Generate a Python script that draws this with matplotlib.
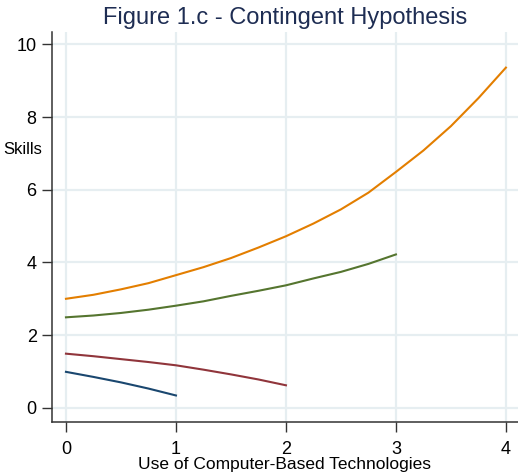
import matplotlib
matplotlib.use("Agg")
import matplotlib.pyplot as plt

# values at quarter-unit steps
x_blue = [0, 0.25, 0.5, 0.75, 1]
y_blue = [0.99, 0.85, 0.70, 0.53, 0.34]

x_red = [0, 0.25, 0.5, 0.75, 1, 1.25, 1.5, 1.75, 2]
y_red = [1.49, 1.42, 1.34, 1.26, 1.17, 1.05, 0.92, 0.78, 0.62]

x_green = [0, 0.25, 0.5, 0.75, 1, 1.25, 1.5, 1.75, 2, 2.25, 2.5, 2.75, 3]
y_green = [2.49, 2.54, 2.61, 2.70, 2.81, 2.93, 3.08, 3.22, 3.37, 3.56, 3.74, 3.96, 4.22]

x_orange = [0, 0.25, 0.5, 0.75, 1, 1.25, 1.5, 1.75, 2, 2.25, 2.5, 2.75, 3,
            3.25, 3.5, 3.75, 4]
y_orange = [3.0, 3.11, 3.26, 3.43, 3.65, 3.87, 4.12, 4.41, 4.72, 5.07, 5.46, 5.92, 6.49,
            7.08, 7.75, 8.52, 9.36]

xticks = [0, 1, 2, 3, 4]
yticks = [0, 2, 4, 6, 8, 10]

plt.rcParams['font.family'] = ['Liberation Sans', 'DejaVu Sans']

fig = plt.figure(figsize=(5.18, 4.74), dpi=100)
ax = fig.add_axes([52/518, 1-422/474, 466/518, 390/474])

grid_col = '#e6eef1'
for v in xticks:
    ax.axvline(v, color=grid_col, lw=1.6, zorder=0)
for v in yticks:
    ax.axhline(v, color=grid_col, lw=1.6, zorder=0)

ax.plot(x_blue, y_blue, color='#1a476f', lw=1.5)
ax.plot(x_red, y_red, color='#90353b', lw=1.5)
ax.plot(x_green, y_green, color='#55752f', lw=1.5)
ax.plot(x_orange, y_orange, color='#e37e00', lw=1.5)

ax.set_xlim(-0.127, 4.11)
ax.set_ylim(-0.39, 10.34)
ax.set_xticks(xticks)
ax.set_yticks(yticks)
ax.tick_params(labelsize=13, length=7, width=1, color='#333333')
ax.tick_params(axis='x', pad=7)
ax.tick_params(axis='y', pad=4)
for s in ['top', 'right']:
    ax.spines[s].set_visible(False)
for s in ['left', 'bottom']:
    ax.spines[s].set_color('#333333')
    ax.spines[s].set_linewidth(1.1)

ax.set_xlabel('Use of Computer-Based Technologies', fontsize=12.5, labelpad=-1)
# reference crops this label at the left edge; keep it just inside
ax.set_ylabel('Skills', fontsize=12, rotation=0, ha='right', va='center')
ax.yaxis.set_label_coords(-0.022, 0.70)
ax.set_title('Figure 1.c - Contingent Hypothesis', fontsize=17, color='#1e2d53', pad=6)

fig.savefig('out.png', dpi=100)
